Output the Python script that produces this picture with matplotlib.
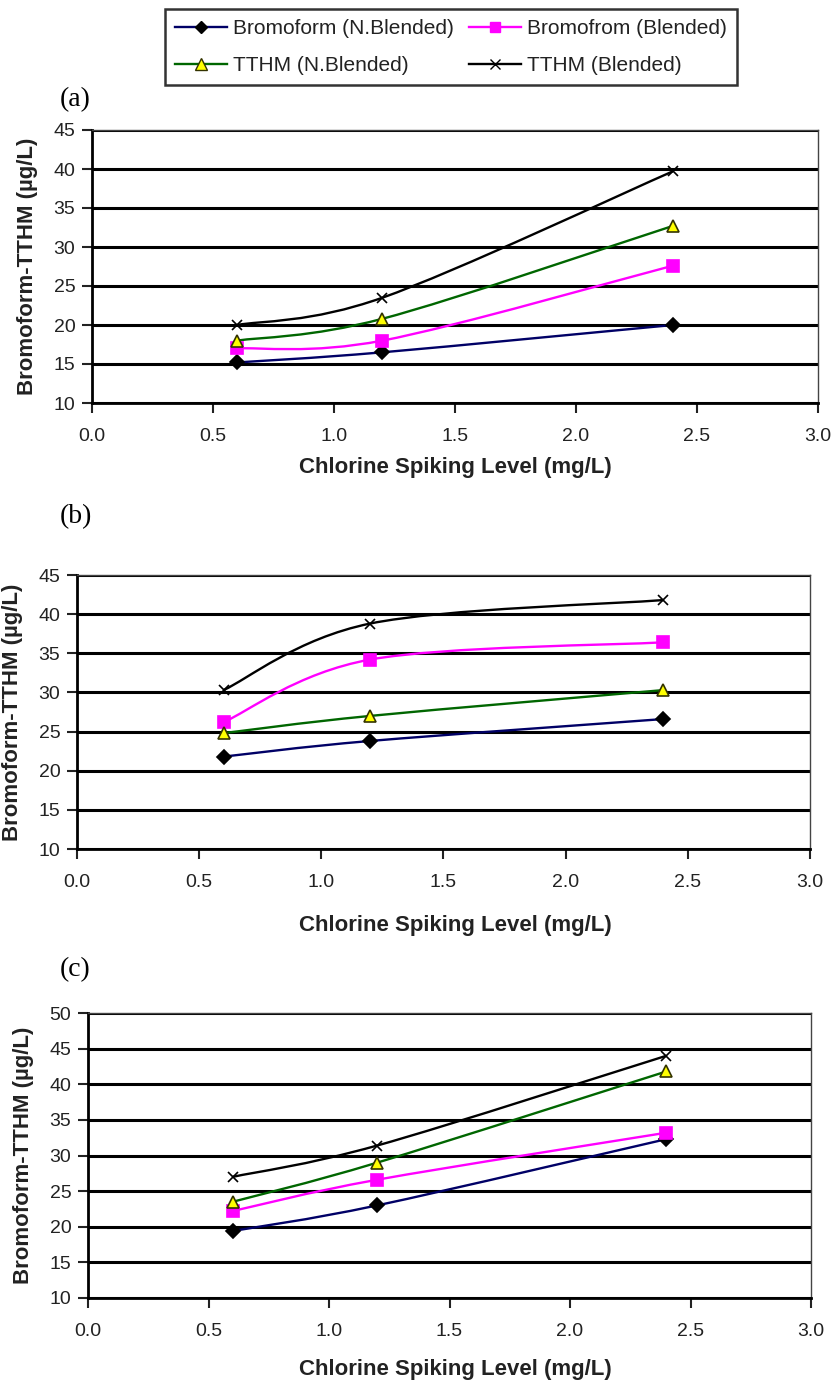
import matplotlib
matplotlib.use("Agg")
import matplotlib.pyplot as plt
from matplotlib.lines import Line2D
from matplotlib.patches import PathPatch
from matplotlib.path import Path

plt.rcParams["font.family"] = ["Liberation Sans", "DejaVu Sans"]

chlorine = [0.6, 1.2, 2.4]

# panel (a)
a_bromo_nb = [15.2, 16.5, 20.0]
a_bromo_b = [17.0, 18.0, 27.6]
a_tthm_nb = [18.0, 20.8, 32.7]
a_tthm_b = [20.0, 23.5, 39.7]

# panel (b)
b_bromo_nb = [21.8, 23.8, 26.6]
b_bromo_b = [26.2, 34.2, 36.4]
b_tthm_nb = [24.8, 27.0, 30.3]
b_tthm_b = [30.3, 38.8, 41.8]

# panel (c)
c_bromo_nb = [19.4, 23.0, 32.3]
c_bromo_b = [22.2, 26.6, 33.2]
c_tthm_nb = [23.5, 29.0, 41.8]
c_tthm_b = [27.0, 31.4, 44.0]

x_ticks = [0.0, 0.5, 1.0, 1.5, 2.0, 2.5, 3.0]
series_names = ["Bromoform (N.Blended)", "Bromofrom (Blended)", "TTHM (N.Blended)", "TTHM (Blended)"]

STYLES = [
    dict(color="#000066", marker="D", mfc="black", mec="black", ms=7.5),
    dict(color="#ff00ff", marker="s", mfc="#ff00ff", mec="#ff00ff", ms=8),
    dict(color="#006600", marker="^", mfc="#ffff00", mec="#333300", ms=9),
    dict(color="black", marker="x", mfc="black", mec="black", ms=7.5),
]

W, H = 837, 1386


def fig_rect(left, right, top, bottom):
    return [left / W, 1 - bottom / H, (right - left) / W, (bottom - top) / H]


def smooth_path(x, y):
    # Excel-style smoothed line: Catmull-Rom segments as cubic Beziers
    pts = list(zip(x, y))
    ext = [pts[0]] + pts + [pts[-1]]
    verts = [pts[0]]
    codes = [Path.MOVETO]
    for i in range(1, len(ext) - 2):
        p0, p1, p2, p3 = ext[i - 1], ext[i], ext[i + 1], ext[i + 2]
        c1 = (p1[0] + (p2[0] - p0[0]) / 6, p1[1] + (p2[1] - p0[1]) / 6)
        c2 = (p2[0] - (p3[0] - p1[0]) / 6, p2[1] - (p3[1] - p1[1]) / 6)
        verts += [c1, c2, p2]
        codes += [Path.CURVE4] * 3
    return Path(verts, codes)


def draw_panel(box, series, ymax, label, label_y, xlabel_y, ylabel_x):
    left, right, top, bottom = box
    ax = fig.add_axes(fig_rect(left, right, top, bottom))
    ax.set_xlim(0, 3.0)
    ax.set_ylim(10, ymax)
    ax.set_xticks(x_ticks)
    ax.set_xticklabels([f"{v:.1f}" for v in x_ticks])
    ax.set_yticks(range(10, ymax + 1, 5))
    ax.grid(True, axis="y", color="black", linewidth=2.2)
    ax.set_axisbelow(True)
    for side in ["left", "bottom"]:
        ax.spines[side].set_linewidth(2)
    for side in ["top", "right"]:
        ax.spines[side].set_linewidth(1)
        ax.spines[side].set_color("#444444")
    ax.tick_params(axis="both", labelsize=14, length=7, width=1.5, colors="#222222")
    ax.tick_params(axis="x", pad=11)
    ax.tick_params(axis="y", pad=5)

    for values, st in zip(series, STYLES):
        ax.add_patch(PathPatch(smooth_path(chlorine, values), fill=False,
                               edgecolor=st["color"], linewidth=1.7, zorder=3))
        ax.plot(chlorine, values, linestyle="none", marker=st["marker"],
                markerfacecolor=st["mfc"], markeredgecolor=st["mec"],
                markersize=st["ms"], markeredgewidth=1.2, zorder=4)

    fig.text(ylabel_x / W, 1 - (top + bottom) / 2 / H, "Bromoform-TTHM (µg/L)", rotation=90,
             ha="center", va="center", fontsize=16, fontweight="bold", color="#222222")
    fig.text(455 / W, 1 - xlabel_y / H, "Chlorine Spiking Level (mg/L)", ha="center", va="center",
             fontsize=16, fontweight="bold", color="#222222")
    fig.text(60 / W, 1 - label_y / H, label, ha="left", va="center", fontsize=20,
             family=["Liberation Serif", "DejaVu Serif"])
    return ax


fig = plt.figure(figsize=(W / 100, H / 100), dpi=100)

draw_panel((92, 818, 130, 403), [a_bromo_nb, a_bromo_b, a_tthm_nb, a_tthm_b], 45, "(a)", 100, 468, 28)
draw_panel((77, 810, 575, 849), [b_bromo_nb, b_bromo_b, b_tthm_nb, b_tthm_b], 45, "(b)", 517, 925, 13)
draw_panel((88, 811, 1013, 1298), [c_bromo_nb, c_bromo_b, c_tthm_nb, c_tthm_b], 50, "(c)", 970, 1370, 24)

handles = [Line2D([], [], color=st["color"], marker=st["marker"], markerfacecolor=st["mfc"],
                  markeredgecolor=st["mec"], markersize=st["ms"] - 1, linewidth=1.7)
           for st in STYLES]
order = [0, 2, 1, 3]
leg = fig.legend([handles[i] for i in order], [series_names[i] for i in order],
                 loc="center", bbox_to_anchor=(451 / W, 1 - 47 / H), ncol=2,
                 fontsize=15, frameon=True, fancybox=False, edgecolor="black",
                 handlelength=2.5, handletextpad=0.3, columnspacing=0.7,
                 labelspacing=0.85, borderpad=0.5)
leg.get_frame().set_linewidth(1.8)
for t in leg.get_texts():
    t.set_color("#222222")

fig.savefig("out.png", dpi=100)
